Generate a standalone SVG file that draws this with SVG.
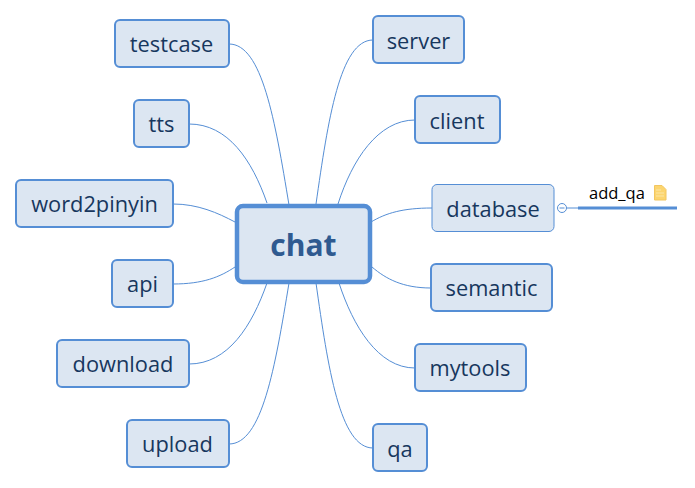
<svg xmlns="http://www.w3.org/2000/svg" width="695" height="488" viewBox="0 0 695 488">
<defs><style>
text{font-family:"Open Sans","Noto Sans","Liberation Sans",sans-serif}
.n rect{fill:#dce6f2;stroke:#558ed5;stroke-width:2}
.n text{font-size:21.800px;fill:#17375e;text-anchor:middle}
.c path{fill:none;stroke:#558ed5;stroke-width:1}
</style></defs>
<rect width="695" height="488" fill="#fff"/>
<g id="connectors" class="c">
<path d="M229 44C262 44 275 120 289 205"/>
<path d="M189 124C228 124 252 160 267 203"/>
<path d="M173 204C198 204 218 213 235 222"/>
<path d="M173 284C203 284 220 277 235 267"/>
<path d="M189 364C228 364 252 326 267 283"/>
<path d="M229 444C262 444 275 368 289 283"/>
<path d="M373 40C340 40 328 120 316 204"/>
<path d="M415 120C378 120 352 160 338 204"/>
<path d="M432 208C403 208 386 213 371 222"/>
<path d="M431 288C403 288 386 279 372 267"/>
<path d="M415 368C378 368 353 326 339 283"/>
<path d="M373 448C340 448 328 368 316 283"/>
<path d="M566.500 208H578"/>
</g>
<g id="n-chat" class="n"><rect x="237" y="206" width="133" height="76" rx="6" style="stroke-width:4.500"/><text x="303.500" y="256" style="font-size:30px;font-weight:700;fill:#2f5a90">chat</text></g>
<g id="n-testcase" class="n"><rect x="115" y="20" width="114" height="47" rx="5"/><text x="171.500" y="52">testcase</text></g>
<g id="n-tts" class="n"><rect x="134" y="100" width="55" height="47" rx="5"/><text x="161.500" y="132">tts</text></g>
<g id="n-word2pinyin" class="n"><rect x="16" y="180" width="157" height="47" rx="5"/><text x="94.500" y="212">word2pinyin</text></g>
<g id="n-api" class="n"><rect x="112" y="260" width="61" height="47" rx="5"/><text x="142.500" y="292">api</text></g>
<g id="n-download" class="n"><rect x="57" y="340" width="132" height="47" rx="5"/><text x="123" y="372">download</text></g>
<g id="n-upload" class="n"><rect x="127" y="420" width="102" height="47" rx="5"/><text x="177.500" y="452">upload</text></g>
<g id="n-server" class="n"><rect x="373" y="16" width="91" height="47" rx="5"/><text x="418.500" y="49">server</text></g>
<g id="n-client" class="n"><rect x="415" y="96" width="85" height="47" rx="5"/><text x="457" y="129">client</text></g>
<g id="n-database" class="n"><rect x="432" y="184.500" width="122" height="47" rx="5" style="stroke-width:1"/><text x="493" y="217">database</text></g>
<g id="n-semantic" class="n"><rect x="431" y="264" width="121" height="47" rx="5"/><text x="491.500" y="296">semantic</text></g>
<g id="n-mytools" class="n"><rect x="415" y="344" width="111" height="47" rx="5"/><text x="470" y="376">mytools</text></g>
<g id="n-qa" class="n"><rect x="373" y="424" width="54" height="47" rx="5"/><text x="400" y="457">qa</text></g>
<g id="n-add_qa">
<circle cx="562" cy="208" r="4.500" fill="#fff" stroke="#558ed5"/>
<path d="M559.500 208H564.500" stroke="#558ed5"/>
<path d="M578 208H677" stroke="#558ed5" stroke-width="3" fill="none"/>
<text x="589" y="199" style="font-size:16.500px;fill:#000">add_qa</text>
<path d="M654.500 185.500H662L666 189.500V200H654.500Z" fill="#fcd56f" stroke="#f2c660" stroke-width="1"/>
<path d="M656 190H661M656 193H664M656 196H664" stroke="#fbe6a8" stroke-width="1"/>
</g>
</svg>
